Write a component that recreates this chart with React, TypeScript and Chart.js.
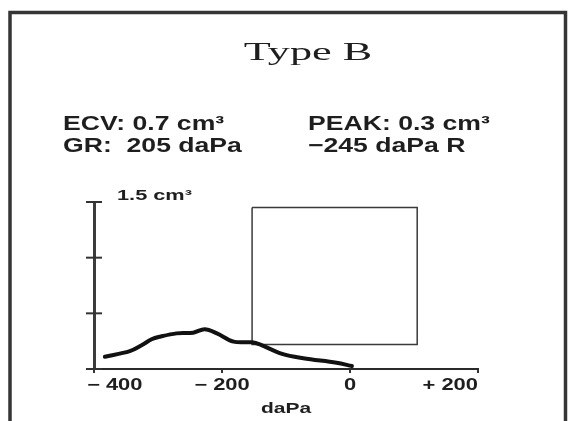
import React, { useEffect, useRef } from "react";
import { Chart, registerables } from "chart.js";

Chart.register(...registerables);

// ---- data ----
const TITLE = "Type B";
const INFO_LEFT = ["ECV: 0.7 cm³", "GR:  205 daPa"];
const INFO_RIGHT = ["PEAK: 0.3 cm³", "−245 daPa R"];
const Y_LABEL = "1.5 cm³";
const X_TITLE = "daPa";

const X_TICK_VALUES = [-400, -200, 0, 200];
const X_TICK_LABELS = ["− 400", "− 200", "0", "+ 200"];
const Y_TICK_VALUES = [0, 0.5, 1.0, 1.5];

const CURVE_X = [-383, -344, -325, -310, -297, -271, -245, -227, -208, -182, -153, -141, -106, -73, -21, 3];
const CURVE_Y = [0.11, 0.16, 0.215, 0.267, 0.29, 0.32, 0.326, 0.358, 0.32, 0.246, 0.24, 0.222, 0.135, 0.096, 0.056, 0.027];

const BOX_X = [-153, 105, 105, -153, -153];
const BOX_Y = [1.45, 1.45, 0.22, 0.22, 1.45];

function drawStretched(
  ctx: CanvasRenderingContext2D,
  text: string,
  x: number,
  y: number,
  font: string,
  sx: number,
  align: "left" | "center" | "right"
) {
  ctx.save();
  ctx.font = font;
  ctx.textAlign = "left";
  ctx.textBaseline = "alphabetic";
  const w = ctx.measureText(text).width * sx;
  const left = align === "center" ? x - w / 2 : align === "right" ? x - w : x;
  ctx.translate(left, y);
  ctx.scale(sx, 1);
  ctx.fillText(text, 0, 0);
  ctx.restore();
}

const textPlugin = {
  id: "tympText",
  afterDraw(chart: any) {
    const ctx: CanvasRenderingContext2D = chart.ctx;
    const xs = chart.scales.x;
    const ys = chart.scales.y;
    const area = chart.chartArea;
    const W = chart.width;
    const H = chart.height;

    // frame (open at the bottom)
    ctx.save();
    ctx.strokeStyle = "#353535";
    ctx.lineWidth = 4;
    ctx.beginPath();
    ctx.moveTo(10, H);
    ctx.lineTo(10, 12.5);
    ctx.lineTo(W - 2.5, 12.5);
    ctx.lineTo(W - 2.5, H);
    ctx.lineWidth = 3.5;
    ctx.stroke();
    ctx.restore();

    // crossing y ticks
    ctx.save();
    ctx.strokeStyle = "#333";
    ctx.lineWidth = 2;
    for (const v of Y_TICK_VALUES) {
      const py = ys.getPixelForValue(v);
      ctx.beginPath();
      ctx.moveTo(area.left - 8, py);
      ctx.lineTo(area.left + 8, py);
      ctx.stroke();
    }
    ctx.restore();

    ctx.save();
    ctx.fillStyle = "#1e1e1e";
    // title
    drawStretched(ctx, TITLE, 308, 60, '26px "Liberation Serif"', 1.7, "center");
    // info rows
    const infoFont = 'bold 20px "Liberation Sans"';
    drawStretched(ctx, INFO_LEFT[0], 63, 130, infoFont, 1.33, "left");
    drawStretched(ctx, INFO_LEFT[1], 63, 152, infoFont, 1.33, "left");
    drawStretched(ctx, INFO_RIGHT[0], 308, 130, infoFont, 1.33, "left");
    drawStretched(ctx, INFO_RIGHT[1], 308, 152, infoFont, 1.33, "left");
    // y label
    drawStretched(ctx, Y_LABEL, area.left + 23, area.top - 2, 'bold 15px "Liberation Sans"', 1.45, "left");
    // x tick labels
    const tickFont = 'bold 16px "Liberation Sans"';
    X_TICK_VALUES.forEach((v, i) => {
      const px = xs.getPixelForValue(v);
      const align = i === 0 ? "left" : i === X_TICK_VALUES.length - 1 ? "right" : "center";
      const ox = i === 0 ? -7 : 0;
      drawStretched(ctx, X_TICK_LABELS[i], px + ox, area.bottom + 21, tickFont, 1.37, align as any);
    });
    // x title
    drawStretched(ctx, X_TITLE, (area.left + area.right) / 2, area.bottom + 44, 'bold 15px "Liberation Sans"', 1.4, "center");
    ctx.restore();
  },
};

export default function App() {
  const ref = useRef<HTMLCanvasElement | null>(null);

  useEffect(() => {
    if (!ref.current) return;
    const chart = new Chart(ref.current, {
      type: "scatter",
      data: {
        datasets: [
          {
            data: CURVE_X.map((x, i) => ({ x, y: CURVE_Y[i] })),
            showLine: true,
            borderColor: "#111",
            borderWidth: 4,
            pointRadius: 0,
            tension: 0.35,
            borderCapStyle: "round",
            borderJoinStyle: "round",
          },
          {
            data: BOX_X.map((x, i) => ({ x, y: BOX_Y[i] })),
            showLine: true,
            borderColor: "#3a3a3a",
            borderWidth: 1.5,
            pointRadius: 0,
            tension: 0,
          },
        ],
      },
      options: {
        animation: false,
        responsive: false,
        devicePixelRatio: 1,
        layout: { padding: { left: 94, right: 90, top: 202, bottom: 0 } },
        plugins: {
          legend: { display: false },
          tooltip: { enabled: false },
          title: { display: false },
        },
        scales: {
          x: {
            type: "linear",
            min: -400,
            max: 200,
            ticks: { display: false, stepSize: 200 },
            grid: { drawOnChartArea: false, drawTicks: true, tickLength: 4, color: "#333", lineWidth: 2 },
            border: { display: true, color: "#2a2a2a", width: 2 },
            afterFit: (s: any) => {
              s.height = 52;
            },
          },
          y: {
            type: "linear",
            min: 0,
            max: 1.5,
            ticks: { display: false, stepSize: 0.5 },
            grid: { drawOnChartArea: false, drawTicks: false },
            border: { display: true, color: "#3c3c3c", width: 3 },
            afterFit: (s: any) => {
              s.width = 0;
            },
          },
        },
      },
      plugins: [textPlugin],
    } as any);
    return () => chart.destroy();
  }, []);

  return (
    <div style={{ position: "fixed", left: 0, top: 0, width: 568, height: 421, background: "#fff" }}>
      <canvas ref={ref} width={568} height={421} style={{ display: "block" }} />
    </div>
  );
}
